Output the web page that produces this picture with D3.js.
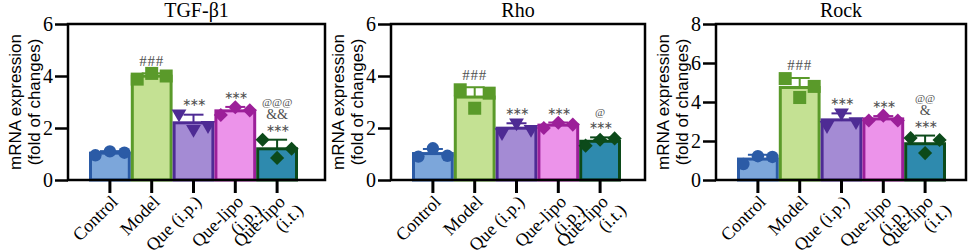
<!DOCTYPE html>
<html>
<head>
<meta charset="utf-8">
<script src="https://cdn.jsdelivr.net/npm/d3@7"></script>
<style>
  body { margin: 0; background: #fff; }
  svg { display: block; }
</style>
</head>
<body>
<div id="chart"></div>
<script>
// categories
const groups = ["Control", "Model", "Que (i.p.)", "Que-lipo (i.p.)", "Que-lipo (i.t.)"]
const groupLabels = [["Control"], ["Model"], ["Que (i.p.)"], ["Que-lipo", "(i.p.)"], ["Que-lipo", "(i.t.)"]]

// individual values per group (3 animals each)
const tgfValues = [[0.95, 1.1, 1.05], [3.88, 4.1, 4.0], [2.55, 1.95, 2.1], [2.5, 2.8, 2.68], [1.55, 0.85, 1.2]]
const rhoValues = [[0.9, 1.22, 0.93], [3.47, 2.76, 3.34], [1.83, 2.2, 1.95], [2.0, 2.2, 2.13], [1.32, 1.55, 1.6]]
const rockValues = [[0.82, 1.22, 1.18], [5.2, 4.23, 4.8], [2.8, 3.45, 3.0], [3.05, 3.3, 3.05], [2.15, 1.38, 2.05]]

// significance marks (stacked lines, top first)
const tgfMarks = [[], ["###"], ["∗∗∗"], ["∗∗∗"], ["@@@", "&&", "∗∗∗"]]
const rhoMarks = [[], ["###"], ["∗∗∗"], ["∗∗∗"], ["@", "∗∗∗"]]
const rockMarks = [[], ["###"], ["∗∗∗"], ["∗∗∗"], ["@@", "&", "∗∗∗"]]

// y ticks
const ticks6 = [0, 2, 4, 6]
const ticks8 = [0, 2, 4, 6, 8]

const fills = ["#7ca6da", "#c4e193", "#a48bd4", "#ec93ea", "#2e8aae"]
const strokes = ["#2b5ba6", "#5a9a2a", "#4e2b94", "#9c1f99", "#0c4a1a"]
const shapes = ["circle", "square", "triangle", "diamond", "diamond"]

const W = 969, H = 250
const plotTop = 24, plotBottom = 180
const serif = "'Liberation Serif', 'Times New Roman', serif"

const svg = d3.select("#chart").append("svg")
  .attr("width", W)
  .attr("height", H)

function marker(g, shape, cx, cy, color) {
  if (shape === "circle") {
    g.append("circle").attr("cx", cx).attr("cy", cy).attr("r", 6.2).attr("fill", color)
  } else if (shape === "square") {
    g.append("rect").attr("x", cx - 6.5).attr("y", cy - 6.5).attr("width", 13).attr("height", 13).attr("fill", color)
  } else if (shape === "triangle") {
    g.append("path")
      .attr("d", d3.symbol(d3.symbolTriangle, 95)())
      .attr("transform", `translate(${cx},${cy}) rotate(180)`)
      .attr("fill", color)
  } else {
    g.append("path")
      .attr("d", d3.symbol(d3.symbolSquare, 100)())
      .attr("transform", `translate(${cx},${cy}) rotate(45)`)
      .attr("fill", color)
  }
}

function markStyle(t) {
  // font, size and spacing per symbol kind
  if (t[0] === "@") return { font: serif, size: 11, spacing: 0 }
  if (t[0] === "∗") return { font: "'DejaVu Sans', sans-serif", size: 11, spacing: -1.8 }
  if (t[0] === "#") return { font: serif, size: 15, spacing: 0.8 }
  return { font: serif, size: 14, spacing: 0 }
}

function drawPanel(x0, w, title, values, marks, yTicks) {
  const g = svg.append("g")

  const y = d3.scaleLinear()
    .domain([0, d3.max(yTicks)])
    .range([plotBottom, plotTop])

  const x = d3.scaleBand()
    .domain(groups)
    .range([x0 + 21, x0 + 230])
    .paddingInner(0)
    .paddingOuter(0)

  // title
  g.append("text")
    .attr("x", x0 + w / 2)
    .attr("y", 17)
    .attr("text-anchor", "middle")
    .attr("font-family", serif)
    .attr("font-size", 20)
    .text(title)

  // y label
  const yl = g.append("text")
    .attr("transform", `translate(${x0 - 47},${(plotTop + plotBottom) / 2}) rotate(-90)`)
    .attr("text-anchor", "middle")
    .attr("font-family", "'Liberation Sans', Arial, sans-serif")
    .attr("font-size", 17)
  yl.append("tspan").attr("x", 0).attr("dy", 0).text("mRNA expression")
  yl.append("tspan").attr("x", 0).attr("dy", 18.5).text("(fold of changes)")

  // bars
  const bw = x.bandwidth()
  groups.forEach((grp, i) => {
    const v = values[i]
    const m = d3.mean(v)
    const s = d3.deviation(v)
    const cx = x(grp) + bw / 2

    g.append("rect")
      .attr("x", x(grp) + 1.5)
      .attr("y", y(m))
      .attr("width", bw - 3)
      .attr("height", y(0) - y(m))
      .attr("fill", fills[i])
      .attr("stroke", strokes[i])
      .attr("stroke-width", 3)

    // error bar (upper only)
    g.append("line")
      .attr("x1", cx).attr("x2", cx)
      .attr("y1", y(m)).attr("y2", y(m + s))
      .attr("stroke", strokes[i]).attr("stroke-width", 2)
    g.append("line")
      .attr("x1", cx - 10).attr("x2", cx + 10)
      .attr("y1", y(m + s)).attr("y2", y(m + s))
      .attr("stroke", strokes[i]).attr("stroke-width", 2)

    // points
    v.forEach((d, j) => {
      marker(g, shapes[i], cx + (j - 1) * 14.5, y(d), strokes[i])
    })

    // significance
    const mk = marks[i]
    const baseY = y(Math.max(d3.max(v), m + s)) - 11
    mk.forEach((t, k) => {
      const st = markStyle(t)
      g.append("text")
        .attr("x", cx)
        .attr("y", baseY - (mk.length - 1 - k) * 12.5)
        .attr("text-anchor", "middle")
        .attr("dominant-baseline", "middle")
        .attr("fill", "#505050")
        .attr("font-family", st.font)
        .attr("font-size", st.size)
        .attr("letter-spacing", st.spacing)
        .text(t)
    })
  })

  // frame
  g.append("rect")
    .attr("x", x0)
    .attr("y", plotTop)
    .attr("width", w)
    .attr("height", plotBottom - plotTop)
    .attr("fill", "none")
    .attr("stroke", "#000")
    .attr("stroke-width", 2.5)

  // y axis ticks
  const ya = g.append("g")
    .attr("transform", `translate(${x0},0)`)
    .call(d3.axisLeft(y).tickValues(yTicks).tickSize(13).tickPadding(2).tickFormat(d3.format("d")))
  ya.attr("font-family", serif).attr("font-size", 20)
  ya.select(".domain").remove()
  ya.selectAll(".tick line").attr("stroke-width", 2.5)

  // x axis ticks
  const xa = g.append("g")
    .attr("transform", `translate(0,${plotBottom})`)
    .call(d3.axisBottom(x).tickSize(13).tickFormat(""))
  xa.select(".domain").remove()
  xa.selectAll(".tick line").attr("stroke-width", 3)

  // x labels rotated, one text per line
  groups.forEach((grp, i) => {
    const lab = g.append("g")
      .attr("transform", `translate(${x(grp) + bw / 2 + 9},${plotBottom + 23}) rotate(-45)`)
    groupLabels[i].forEach((l, k) => {
      lab.append("text")
        .attr("x", k * 7)
        .attr("y", k * 18.5)
        .attr("text-anchor", "end")
        .attr("font-family", serif)
        .attr("font-size", 18)
        .text(l)
    })
  })
}

drawPanel(68, 257, "TGF-β1", tgfValues, tgfMarks, ticks6)
drawPanel(391, 254, "Rho", rhoValues, rhoMarks, ticks6)
drawPanel(716, 250, "Rock", rockValues, rockMarks, ticks8)
</script>
</body>
</html>
